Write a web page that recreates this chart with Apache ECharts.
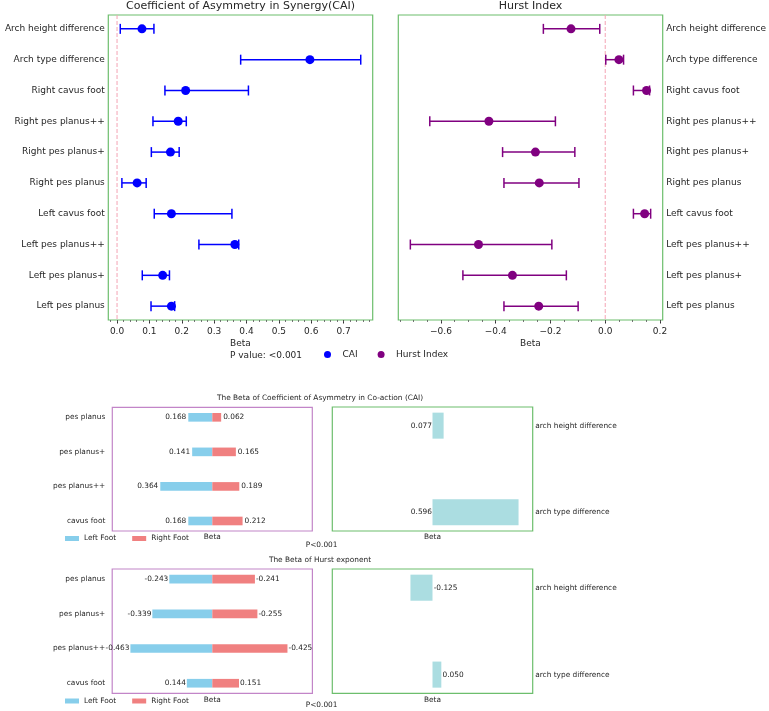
<!DOCTYPE html>
<html>
<head>
<meta charset="utf-8">
<script src="https://cdn.jsdelivr.net/npm/echarts@6.0.0/dist/echarts.min.js"></script>
<style>
  html, body { margin: 0; padding: 0; background: #fff; }
  #main { width: 769px; height: 711px; }
</style>
</head>
<body>
<div id="main"></div>
<script>
// forest plots, top to bottom
const rowNames = ['Arch height difference', 'Arch type difference', 'Right cavus foot', 'Right pes planus++',
  'Right pes planus+', 'Right pes planus', 'Left cavus foot', 'Left pes planus++', 'Left pes planus+', 'Left pes planus'];
const caiBeta = [0.077, 0.596, 0.212, 0.189, 0.165, 0.062, 0.168, 0.364, 0.141, 0.168];
const caiLow = [0.010, 0.382, 0.148, 0.111, 0.106, 0.015, 0.115, 0.253, 0.078, 0.105];
const caiHigh = [0.114, 0.753, 0.406, 0.214, 0.192, 0.090, 0.355, 0.376, 0.162, 0.178];
const hurstBeta = [-0.125, 0.050, 0.151, -0.425, -0.255, -0.241, 0.144, -0.463, -0.339, -0.243];
const hurstLow = [-0.226, 0.002, 0.103, -0.641, -0.375, -0.370, 0.103, -0.712, -0.520, -0.370];
const hurstHigh = [-0.020, 0.067, 0.162, -0.182, -0.111, -0.096, 0.166, -0.195, -0.142, -0.099];
const caiTicks = [0, 0.1, 0.2, 0.3, 0.4, 0.5, 0.6, 0.7];
const hurstTicks = [-0.6, -0.4, -0.2, 0, 0.2];

// bar panels
const footCats = ['pes planus', 'pes planus+', 'pes planus++', 'cavus foot'];
const caiLeftFoot = [0.168, 0.141, 0.364, 0.168];
const caiRightFoot = [0.062, 0.165, 0.189, 0.212];
const hurstLeftFoot = [-0.243, -0.339, -0.463, 0.144];
const hurstRightFoot = [-0.241, -0.255, -0.425, 0.151];
const archCats = ['arch height difference', 'arch type difference'];
const caiArch = [0.077, 0.596];
const hurstArch = [-0.125, 0.050];

const FONT = 'DejaVu Sans';
const TXT = '#262626';
const GREEN = '#6dbe6d';
const PURPLE = '#c285c8';
const SMALL = 7.4;

const chart = echarts.init(document.getElementById('main'));

function fmtTick (v) {
  const s = Math.abs(v).toFixed(1);
  return v < -1e-9 ? '\u2212' + s : s;
}

function minorTicks (min, max, step) {
  const out = [];
  for (let v = Math.ceil(min / step) * step; v <= max + 1e-9; v += step) out.push(+v.toFixed(4));
  return out;
}

// horizontal error bar with caps
function errorBar (params, api) {
  const y = api.value(2);
  const a = api.coord([api.value(0), y]);
  const b = api.coord([api.value(1), y]);
  const cap = 5;
  const style = { stroke: api.visual('color'), lineWidth: 1.5 };
  return {
    type: 'group',
    children: [
      { type: 'line', shape: { x1: a[0], y1: a[1], x2: b[0], y2: b[1] }, style },
      { type: 'line', shape: { x1: a[0], y1: a[1] - cap, x2: a[0], y2: a[1] + cap }, style },
      { type: 'line', shape: { x1: b[0], y1: b[1] - cap, x2: b[0], y2: b[1] + cap }, style }
    ]
  };
}

// horizontal bar from 0 with value text on one side
function barItem (barH, side, gap) {
  return function (params, api) {
    const v = api.value(0);
    const y = api.value(1);
    const raw = api.value(2);
    const a = api.coord([0, y]);
    const b = api.coord([v, y]);
    const h = api.size([0, barH])[1];
    const x0 = Math.min(a[0], b[0]);
    const x1 = Math.max(a[0], b[0]);
    return {
      type: 'group',
      children: [
        { type: 'rect', shape: { x: x0, y: a[1] - h / 2, width: x1 - x0, height: h }, style: { fill: api.visual('color') } },
        {
          type: 'text',
          z2: 10,
          style: {
            text: raw.toFixed(3), x: side === 'left' ? x0 - gap : x1 + gap, y: a[1],
            align: side === 'left' ? 'right' : 'left', verticalAlign: 'middle',
            fontSize: SMALL, fontFamily: FONT, fill: TXT
          }
        }
      ]
    };
  };
}

function grid (left, top, width, height, color) {
  return { left, top, width, height, show: true, borderColor: color, borderWidth: 1.2, backgroundColor: 'transparent', outerBoundsMode: 'none', containLabel: false };
}

const noLine = { show: false, onZero: false };
const noSplit = { show: false };

function forestX (gridIndex, min, max, ticks) {
  return {
    type: 'value', gridIndex, position: 'bottom', min, max,
    axisLine: noLine, splitLine: noSplit,
    axisTick: { show: true, length: 3.5, customValues: ticks, lineStyle: { color: '#333' } },
    axisLabel: { customValues: ticks, formatter: fmtTick, fontSize: 9, fontFamily: FONT, color: TXT, margin: 7 },
    name: 'Beta', nameLocation: 'middle', nameGap: 19, nameTextStyle: { fontSize: 9, fontFamily: FONT, color: TXT }
  };
}

function minorX (gridIndex, min, max, step) {
  const vals = minorTicks(min, max, step);
  return {
    type: 'value', gridIndex, position: 'bottom', min, max,
    axisLine: noLine, splitLine: noSplit,
    axisLabel: { show: true, customValues: vals, formatter: () => '' },
    axisTick: { show: true, length: 2, customValues: vals, lineStyle: { color: '#555', width: 0.8 } }
  };
}

function catY (gridIndex, min, max, names, position, margin, fontSize) {
  const vals = names.map((n, i) => i);
  return {
    type: 'value', gridIndex, position, min, max, inverse: true,
    axisLine: noLine, splitLine: noSplit, axisTick: { show: false },
    axisLabel: { customValues: vals, formatter: v => names[Math.round(v)], fontSize, fontFamily: FONT, color: TXT, margin }
  };
}

function barX (gridIndex, lim) {
  return {
    type: 'value', gridIndex, min: -lim, max: lim,
    axisLine: noLine, splitLine: noSplit, axisTick: { show: false }, axisLabel: { show: false },
    name: 'Beta', nameLocation: 'middle', nameGap: 3, nameTextStyle: { fontSize: SMALL, fontFamily: FONT, color: TXT }
  };
}

// dashed reference line at beta = 0
function zeroLine (xAxisIndex, yAxisIndex) {
  return {
    type: 'line', xAxisIndex, yAxisIndex, silent: true, symbol: 'none', z: 1,
    lineStyle: { color: '#f4a4b4', type: [4, 2], width: 1 },
    data: [[0, -0.45], [0, 9.45]]
  };
}

const txt = (text, x, y, size, align) => ({
  type: 'text', x, y, silent: true,
  style: { text, align: align || 'center', verticalAlign: 'middle', fontSize: size, fontFamily: FONT, fill: TXT }
});

const caiMin = -0.027, caiMax = 0.790;
const hurstMin = -0.756, hurstMax = 0.210;

const option = {
  animation: false,
  backgroundColor: '#fff',
  textStyle: { fontFamily: FONT },
  grid: [
    grid(108.3, 15, 264.4, 305, GREEN),
    grid(398.3, 15, 264.4, 305, GREEN),
    grid(112.3, 407.3, 200, 123.7, PURPLE),
    grid(332.3, 407, 200.4, 124, GREEN),
    grid(112.2, 569, 200.2, 124.3, PURPLE),
    grid(332.3, 569, 200.4, 124.3, GREEN)
  ],
  xAxis: [
    forestX(0, caiMin, caiMax, caiTicks),
    minorX(0, caiMin, caiMax, 0.02),
    forestX(1, hurstMin, hurstMax, hurstTicks),
    minorX(1, hurstMin, hurstMax, 0.05),
    barX(2, 0.7),
    barX(3, 0.694),
    barX(4, 0.566),
    barX(5, 0.568)
  ],
  yAxis: [
    catY(0, -0.45, 9.45, rowNames, 'left', 3.5, 9),
    catY(1, -0.45, 9.45, rowNames, 'right', 3.5, 9),
    catY(2, -0.29, 3.29, footCats, 'left', 7, SMALL),
    catY(3, -0.215, 1.215, archCats, 'right', 2.5, SMALL),
    catY(4, -0.29, 3.29, footCats, 'left', 7, SMALL),
    catY(5, -0.215, 1.215, archCats, 'right', 2.5, SMALL)
  ],
  legend: [
    {
      left: 324, top: 350, padding: 0, itemWidth: 20, itemHeight: 7, itemGap: 20,
      data: [{ name: 'CAI', icon: 'circle' }, { name: 'Hurst Index', icon: 'circle' }],
      textStyle: { fontSize: 9, fontFamily: FONT, color: TXT }
    },
    {
      left: 65, top: 535, padding: 0, itemWidth: 14, itemHeight: 5, itemGap: 16, icon: 'rect',
      data: ['Left Foot', 'Right Foot'],
      textStyle: { fontSize: SMALL, fontFamily: FONT, color: TXT }
    },
    {
      left: 65, top: 697.5, padding: 0, itemWidth: 14, itemHeight: 5, itemGap: 16, icon: 'rect',
      data: ['Left Foot', 'Right Foot'],
      textStyle: { fontSize: SMALL, fontFamily: FONT, color: TXT }
    }
  ],
  graphic: [
    txt('Coefficient of Asymmetry in Synergy(CAI)', 240.5, 6.5, 11),
    txt('Hurst Index', 530.5, 6.5, 11),
    txt('P value: <0.001', 230, 355.7, 9, 'left'),
    txt('The Beta of Coefficient of Asymmetry in Co-action (CAI)', 320, 397.7, SMALL),
    txt('P<0.001', 305.7, 545.5, SMALL, 'left'),
    txt('The Beta of Hurst exponent', 320, 559.7, SMALL),
    txt('P<0.001', 305.7, 705, SMALL, 'left')
  ],
  series: [
    zeroLine(0, 0),
    zeroLine(2, 1),
    {
      type: 'custom', name: 'cai-ci', xAxisIndex: 0, yAxisIndex: 0, renderItem: errorBar,
      itemStyle: { color: '#0000ff' }, encode: { x: [0, 1], y: 2 },
      data: rowNames.map((n, i) => [caiLow[i], caiHigh[i], i]), z: 2
    },
    {
      type: 'scatter', name: 'CAI', xAxisIndex: 0, yAxisIndex: 0, symbolSize: 9,
      itemStyle: { color: '#0000ff', opacity: 1 }, z: 3,
      data: rowNames.map((n, i) => [caiBeta[i], i])
    },
    {
      type: 'custom', name: 'hurst-ci', xAxisIndex: 2, yAxisIndex: 1, renderItem: errorBar,
      itemStyle: { color: '#800080' }, encode: { x: [0, 1], y: 2 },
      data: rowNames.map((n, i) => [hurstLow[i], hurstHigh[i], i]), z: 2
    },
    {
      type: 'scatter', name: 'Hurst Index', xAxisIndex: 2, yAxisIndex: 1, symbolSize: 9,
      itemStyle: { color: '#800080', opacity: 1 }, z: 3,
      data: rowNames.map((n, i) => [hurstBeta[i], i])
    },
    {
      type: 'custom', name: 'Left Foot', xAxisIndex: 4, yAxisIndex: 2, renderItem: barItem(0.25, 'left', 2),
      itemStyle: { color: '#87ceeb' }, encode: { x: 0, y: 1 },
      data: footCats.map((c, i) => [-Math.abs(caiLeftFoot[i]), i, caiLeftFoot[i]])
    },
    {
      type: 'custom', name: 'Right Foot', xAxisIndex: 4, yAxisIndex: 2, renderItem: barItem(0.25, 'right', 2),
      itemStyle: { color: '#f08080' }, encode: { x: 0, y: 1 },
      data: footCats.map((c, i) => [Math.abs(caiRightFoot[i]), i, caiRightFoot[i]])
    },
    {
      type: 'custom', name: 'cai-arch', xAxisIndex: 5, yAxisIndex: 3, renderItem: barItem(0.3, 'left', 0.5),
      itemStyle: { color: '#abdde1' }, encode: { x: 0, y: 1 },
      data: archCats.map((c, i) => [caiArch[i], i, caiArch[i]])
    },
    {
      type: 'custom', name: 'Left Foot', xAxisIndex: 6, yAxisIndex: 4, renderItem: barItem(0.25, 'left', 1),
      itemStyle: { color: '#87ceeb' }, encode: { x: 0, y: 1 },
      data: footCats.map((c, i) => [-Math.abs(hurstLeftFoot[i]), i, hurstLeftFoot[i]])
    },
    {
      type: 'custom', name: 'Right Foot', xAxisIndex: 6, yAxisIndex: 4, renderItem: barItem(0.25, 'right', 1),
      itemStyle: { color: '#f08080' }, encode: { x: 0, y: 1 },
      data: footCats.map((c, i) => [Math.abs(hurstRightFoot[i]), i, hurstRightFoot[i]])
    },
    {
      type: 'custom', name: 'hurst-arch', xAxisIndex: 7, yAxisIndex: 5, renderItem: barItem(0.3, 'right', 1.2),
      itemStyle: { color: '#abdde1' }, encode: { x: 0, y: 1 },
      data: archCats.map((c, i) => [hurstArch[i], i, hurstArch[i]])
    }
  ]
};

chart.setOption(option);
</script>
</body>
</html>
